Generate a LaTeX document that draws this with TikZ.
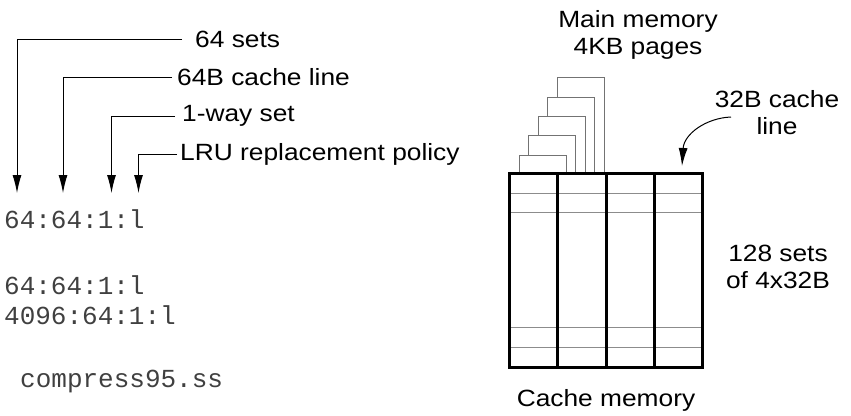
\documentclass[tikz,border=0pt]{standalone}
\usepackage{fontspec}
\setmainfont{Liberation Sans}[FakeStretch=1.12]
\setmonofont{Liberation Mono}
\usetikzlibrary{arrows.meta, positioning}

\tikzset{
	txt/.style={font=\fontsize{23.5}{27}\selectfont, inner sep=0pt, align=center},
	code/.style={font=\ttfamily\fontsize{26}{30}\selectfont, inner sep=0pt, anchor=west, text=black!75},
	pointer/.style={draw=black, line width=1pt, -{Latex[length=18pt,width=9pt]}},
	cell/.style={draw=black!45, line width=1pt},
	way/.style={draw=black, line width=3pt},
	page/.style={draw=black!55, line width=1pt, fill=white}
}

\begin{document}
\begin{tikzpicture}[x=1pt, y=-1pt]
		\useasboundingbox (0,0) rectangle (851,415);

		% field labels of the cache spec
		\node[txt, anchor=west] (sets) at (195,39) {64 sets};
		\node[txt, anchor=west] (lineSize) at (177,77) {64B cache line};
		\node[txt, anchor=west] (assoc) at (182,116) {1-way set};
		\node[txt, anchor=west] (policy) at (180,154) {LRU replacement policy};

		\coordinate (setsTip) at (17,193);
		\coordinate (lineSizeTip) at (63,193);
		\coordinate (assocTip) at (111.5,193);
		\coordinate (policyTip) at (138.5,193);

		\draw[pointer] ([xshift=-13pt]sets.west) -| (setsTip);
		\draw[pointer] ([xshift=-5pt]lineSize.west) -| (lineSizeTip);
		\draw[pointer] ([xshift=-7pt]assoc.west) -| (assocTip);
		\draw[pointer] ([xshift=-3pt]policy.west) -| (policyTip);

		\node[code] (specOne) at (4,219) {64:64:1:l};
		\node[code] (specTwo) at (4,285) {64:64:1:l};
		\node[code] (specThree) at (4,315) {4096:64:1:l};
		\node[code] (trace) at (20,381) {compress95.ss};

		% main memory pages, back to front
		\foreach \i in {4,3,2,1,0}
			\draw[page] ({519+9.6*\i},173) rectangle ({566+9.6*\i},{155-19.3*\i});

		% cache memory
		\foreach \r in {193,212.5,327.5,347}
			\draw[cell] (509,\r) -- (702,\r);
		\foreach \c in {557.5,606,654.5}
			\draw[way] (\c,173) -- (\c,367);
		\draw[way] (509,173) rectangle (702,367);

		\node[txt] (mainMem) at (638,35) {Main memory\\4KB pages};
		\node[txt] (cacheLine) at (777,113) {32B cache\\line};
		\node[txt] (setsInfo) at (778,267) {128 sets\\of 4x32B};
		\node[txt] (cacheMem) at (606,400) {Cache memory};

		\coordinate (cacheLineStart) at (731,117);
		\coordinate (cacheLineTip) at (682,166);
		\draw[pointer] (cacheLineStart) .. controls (706,118) and (684,134) .. (cacheLineTip);
\end{tikzpicture}
\end{document}
